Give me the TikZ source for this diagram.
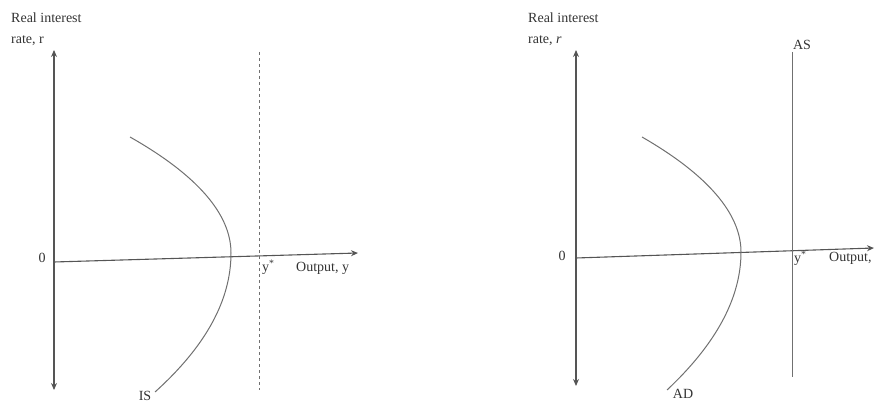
\documentclass[tikz,border=0pt]{standalone}
\usepackage{fontspec}
\setmainfont{Liberation Serif}
\usetikzlibrary{arrows.meta, positioning}
\definecolor{axgray}{HTML}{555555}
\definecolor{cvgray}{HTML}{707070}
\definecolor{txgray}{HTML}{333333}
\tikzset{
  % assi del grafico
  axis/.style={line width=1.1pt, axgray, -{Stealth[length=7pt,width=6pt]}},
  vaxis/.style={line width=1.1pt, axgray, {Stealth[length=7pt,width=6pt]}-{Stealth[length=7pt,width=6pt]}},
  % curve IS / AD
  curve/.style={line width=1pt, cvgray},
  % livello di output potenziale
  potline/.style={line width=1pt, cvgray},
  potdash/.style={potline, dash pattern=on 3pt off 3pt},
  % etichette
  lbl/.style={font=\fontsize{14}{21}\selectfont, text=txgray, inner sep=0pt},
  ylbl/.style={lbl, align=left, anchor=north west},
}

\begin{document}
\begin{tikzpicture}[x=1pt, y=-1pt]
  \useasboundingbox (0,0) rectangle (878,403);
  % --- grafico di sinistra: IS
  \coordinate (lTop) at (54,50);
  \coordinate (lBot) at (54,390);
  \coordinate (lO) at (54,262);
  \coordinate (lEnd) at (358,253);
  \draw[vaxis] (lBot) -- (lTop);
  \draw[axis] (lO) -- (lEnd);
  \node[ylbl] (lyl) at (11,13) {Real interest\\rate, r};
  \node[lbl] (lzero) at (42,258) {0};
  \coordinate (isA) at (130,137);
  \coordinate (isV) at (231,253);
  \coordinate (isB) at (155,392);
  \draw[curve] (isA) .. controls (197,175) and (231,214) .. (isV)
    .. controls (231,300) and (206,346) .. (isB);
  \node[lbl] (is) at (145,396) {IS};
  \coordinate (ysTop) at (259,52);
  \coordinate (ysBot) at (259,390);
  \draw[potdash] (ysTop) -- (ysBot);
  \node[lbl, anchor=west] (lys) at (262,267) {y\textsuperscript{*}};
  \node[lbl, anchor=west] (lout) at (296,268) {Output, y};
  % --- grafico di destra: AD-AS
  \coordinate (rTop) at (576,50);
  \coordinate (rBot) at (576,386);
  \coordinate (rO) at (576,258);
  \coordinate (rEnd) at (874,248);
  \draw[vaxis] (rBot) -- (rTop);
  \draw[axis] (rO) -- (rEnd);
  \node[ylbl] (ryl) at (528,13) {Real interest\\rate, \textit{r}};
  \node[lbl] (rzero) at (562,256) {0};
  \coordinate (adA) at (642,137);
  \coordinate (adV) at (741,252);
  \coordinate (adB) at (667,390);
  \draw[curve] (adA) .. controls (708,175) and (741,214) .. (adV)
    .. controls (741,298) and (716,344) .. (adB);
  \node[lbl] (ad) at (683,394) {AD};
  \coordinate (asTop) at (792,52);
  \coordinate (asBot) at (792,377);
  \draw[potline] (asTop) -- (asBot);
  \node[lbl] (as) at (802,45) {AS};
  \node[lbl, anchor=west] (rys) at (794,258) {y\textsuperscript{*}};
  \node[lbl, anchor=west] (rout) at (829,258) {Output,};
\end{tikzpicture}
\end{document}
